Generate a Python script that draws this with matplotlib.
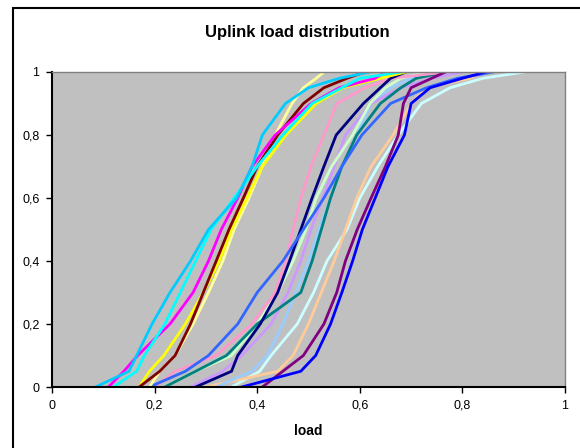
import matplotlib
matplotlib.use("Agg")
import matplotlib.pyplot as plt
from matplotlib.patches import Rectangle
from matplotlib.ticker import FuncFormatter

plt.rcParams['font.family'] = ['Liberation Sans', 'DejaVu Sans']

# cumulative probability levels
levels = [0, 0.05, 0.1, 0.2, 0.3, 0.4, 0.5, 0.6, 0.7, 0.8, 0.9, 0.95, 0.98, 1.0]

# load values at each level, one list per series
sky_blue      = [0.085, 0.15, 0.165, 0.195, 0.23, 0.27, 0.305, 0.36, 0.39, 0.41, 0.455, 0.50, 0.56, 0.62]
cyan          = [0.12, 0.165, 0.18, 0.22, 0.25, 0.28, 0.31, 0.355, 0.40, 0.45, 0.507, 0.565, 0.60, 0.68]
magenta       = [0.11, 0.14, 0.167, 0.23, 0.275, 0.305, 0.33, 0.362, 0.39, 0.435, 0.505, 0.56, 0.63, 0.65]
dark_red      = [0.17, 0.21, 0.24, 0.27, 0.295, 0.32, 0.345, 0.373, 0.40, 0.44, 0.49, 0.53, 0.575, 0.61]
yellow        = [0.17, 0.19, 0.218, 0.26, 0.295, 0.326, 0.35, 0.38, 0.41, 0.456, 0.515, 0.567, 0.64, 0.69]
light_yellow  = [0.19, 0.21, 0.24, 0.275, 0.305, 0.333, 0.355, 0.384, 0.41, 0.435, 0.468, 0.49, 0.515, 0.53]
royal_blue    = [0.19, 0.26, 0.305, 0.362, 0.40, 0.45, 0.49, 0.53, 0.565, 0.604, 0.66, 0.73, 0.79, 0.86]
pink          = [0.20, 0.24, 0.32, 0.39, 0.435, 0.456, 0.47, 0.485, 0.505, 0.53, 0.555, 0.61, 0.66, 0.77]
navy          = [0.28, 0.35, 0.362, 0.406, 0.44, 0.463, 0.485, 0.507, 0.53, 0.554, 0.607, 0.64, 0.66, 0.69]
light_green   = [0.22, 0.28, 0.35, 0.40, 0.44, 0.47, 0.495, 0.515, 0.545, 0.586, 0.62, 0.65, 0.68, 0.73]
teal          = [0.22, 0.28, 0.34, 0.40, 0.485, 0.507, 0.525, 0.543, 0.565, 0.594, 0.64, 0.68, 0.71, 0.767]
lavender      = [0.27, 0.333, 0.37, 0.427, 0.46, 0.485, 0.505, 0.528, 0.55, 0.572, 0.622, 0.68, 0.74, 0.80]
light_sky     = [0.32, 0.39, 0.42, 0.45, 0.475, 0.50, 0.52, 0.543, 0.565, 0.594, 0.622, 0.66, 0.70, 0.77]
light_turq    = [0.35, 0.405, 0.427, 0.478, 0.51, 0.536, 0.575, 0.60, 0.635, 0.675, 0.72, 0.776, 0.84, 0.92]
peach         = [0.30, 0.44, 0.47, 0.50, 0.525, 0.55, 0.572, 0.594, 0.622, 0.665, 0.70, 0.73, 0.815, 0.84]
purple        = [0.41, 0.45, 0.49, 0.53, 0.555, 0.572, 0.595, 0.622, 0.65, 0.675, 0.685, 0.70, 0.74, 0.767]
blue          = [0.37, 0.485, 0.514, 0.543, 0.565, 0.586, 0.605, 0.63, 0.655, 0.687, 0.70, 0.737, 0.80, 0.846]

series = [
    (light_turq, '#CCFFFF'), (peach, '#FFCC99'), (light_sky, '#99CCFF'),
    (lavender, '#CC99FF'), (light_green, '#CCFFCC'), (teal, '#008080'),
    (pink, '#FF99CC'), (navy, '#000080'), (royal_blue, '#3366FF'),
    (purple, '#800080'), (blue, '#0000FF'),
    (light_yellow, '#FFFF99'), (yellow, '#FFFF00'), (dark_red, '#800000'),
    (magenta, '#FF00FF'), (cyan, '#00FFFF'), (sky_blue, '#00CCFF'),
]

x_ticks = [0, 0.2, 0.4, 0.6, 0.8, 1]
y_ticks = [0, 0.2, 0.4, 0.6, 0.8, 1]

fig = plt.figure(figsize=(5.8, 4.48), dpi=100)
fig.patch.set_facecolor('white')
# outer chart border
fig.add_artist(Rectangle((13/580, -0.05), 1.0, 1 - 8/448 + 0.05,
                         transform=fig.transFigure, fill=False,
                         edgecolor='black', linewidth=1.5))

ax = fig.add_axes([52/580, 1 - 387/448, (565 - 52)/580, (387 - 72)/448])
ax.set_facecolor('#C0C0C0')
for xs, c in series:
    ax.plot(xs, levels, color=c, linewidth=2.0, solid_joinstyle='miter')

ax.set_xlim(0, 1)
ax.set_ylim(0, 1)
ax.set_xticks(x_ticks)
ax.set_yticks(y_ticks)
fmt = FuncFormatter(lambda v, p: ('%g' % v).replace('.', ','))
ax.xaxis.set_major_formatter(fmt)
ax.yaxis.set_major_formatter(fmt)
ax.tick_params(direction='out', length=4, width=1, labelsize=9, colors='black', pad=5)
for s in ['top', 'right']:
    ax.spines[s].set_color('#808080')
    ax.spines[s].set_linewidth(1)
for s in ['left', 'bottom']:
    ax.spines[s].set_color('black')
    ax.spines[s].set_linewidth(1.5)

ax.set_xlabel('load', fontsize=10, fontweight='bold', labelpad=9)
fig.text(297/580, 1 - 32/448, 'Uplink load distribution',
         ha='center', va='center', fontsize=12, fontweight='bold')

fig.savefig('out.png', dpi=100)
